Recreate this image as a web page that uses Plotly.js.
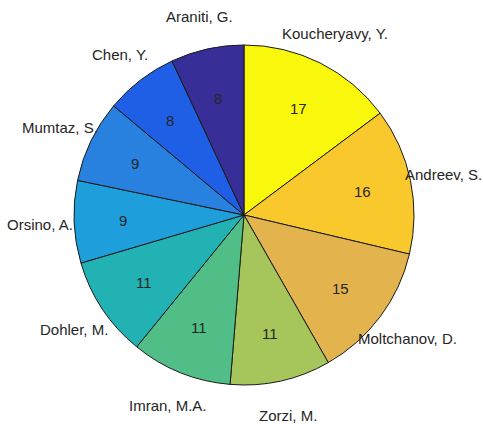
<!DOCTYPE html>
<html>
<head>
<meta charset="utf-8">
<script src="https://cdn.plot.ly/plotly-3.0.1.min.js"></script>
<style>html,body{margin:0;padding:0;background:#fff;}#chart{width:483px;height:424px;}</style>
</head>
<body>
<div id="chart"></div>
<script>
const names = ["Koucheryavy, Y.", "Andreev, S.", "Moltchanov, D.", "Zorzi, M.", "Imran, M.A.", "Dohler, M.", "Orsino, A.", "Mumtaz, S.", "Chen, Y.", "Araniti, G."];
const counts = [17, 16, 15, 11, 11, 11, 9, 9, 8, 8];
const colors = ["#f9f80c", "#f9c82c", "#e3b44e", "#a6c65c", "#50be86", "#22b2b4", "#1e9edb", "#2881df", "#1f5fe6", "#382e98"];

const W = 483, H = 424;
const dom = {x: [0.1532, 0.8571], y: [0.092, 0.894]};
const cx = (dom.x[0] + dom.x[1]) / 2, cy = (dom.y[0] + dom.y[1]) / 2;
const R = Math.min((dom.x[1] - dom.x[0]) * W, (dom.y[1] - dom.y[0]) * H) / 2;

const total = counts.reduce((a, b) => a + b, 0);
const font = {family: 'Liberation Sans, Arial, sans-serif', size: 15, color: '#262626'};
const annotations = [];
let cum = 0;
counts.forEach((v, i) => {
  const mid = (cum + v / 2) / total * 2 * Math.PI;
  cum += v;
  const place = (f) => ({x: cx + f * R * Math.sin(mid) / W, y: cy + f * R * Math.cos(mid) / H});
  const pl = place(1.2);
  annotations.push({xref: 'paper', yref: 'paper', x: pl.x, y: pl.y, xanchor: 'center', yanchor: 'middle',
    yshift: -1, text: names[i], showarrow: false, font: font});
  const pv = place(0.71);
  annotations.push({xref: 'paper', yref: 'paper', x: pv.x, y: pv.y, xanchor: 'center', yanchor: 'middle',
    yshift: -1, text: String(v), showarrow: false, font: font});
});

const trace = {
  type: 'pie',
  values: counts,
  labels: names,
  sort: false,
  direction: 'clockwise',
  rotation: 0,
  textinfo: 'none',
  hoverinfo: 'label+value',
  marker: {colors: colors, line: {color: '#1a1a1a', width: 1}},
  domain: dom,
  showlegend: false
};

const layout = {
  width: W, height: H,
  margin: {l: 0, r: 0, t: 0, b: 0},
  paper_bgcolor: '#ffffff',
  showlegend: false,
  annotations: annotations
};

Plotly.newPlot('chart', [trace], layout, {displayModeBar: false, staticPlot: true});
</script>
</body>
</html>
